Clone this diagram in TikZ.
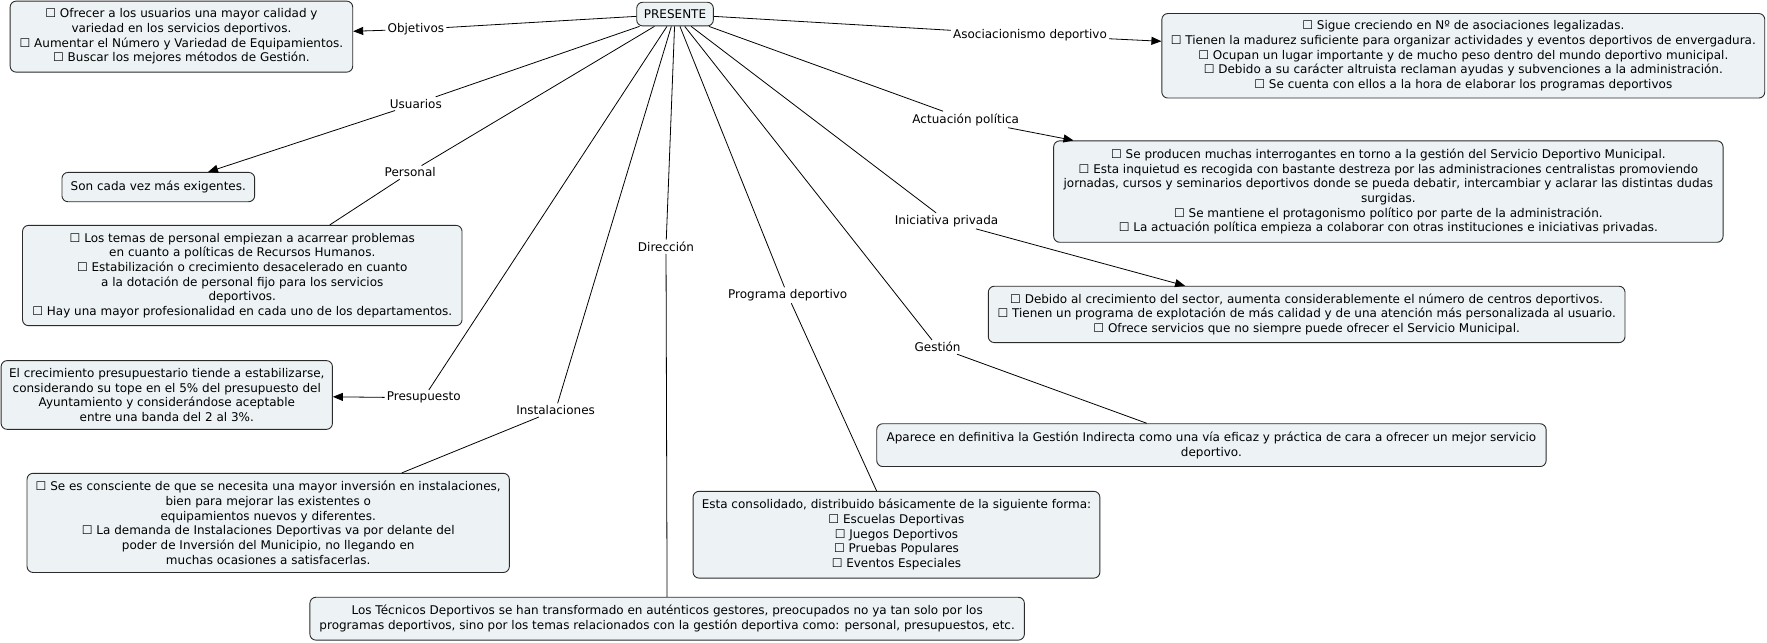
\documentclass[tikz,border=0pt]{standalone}
\usepackage{fontspec}
\setmainfont{DejaVu Sans}
\usetikzlibrary{arrows.meta}
\definecolor{boxfill}{HTML}{EDF3F5}
\definecolor{boxline}{HTML}{2B2B2B}
\begin{document}
\begin{tikzpicture}[x=1.127pt,y=-1.127pt,
  txt/.style={font=\fontsize{12}{14.65}\selectfont},
  cbox/.style={txt,draw=boxline,fill=boxfill,rounded corners=6pt,line width=0.9pt,inner sep=0pt,align=center},
  bx/.style 2 args={minimum width=#1*1.127pt,minimum height=#2*1.127pt},
  lab/.style={txt,inner sep=2pt},
  link/.style={draw=black,line width=0.8pt},
  arr/.style={link,-{Triangle[length=10pt,width=8pt]}}]
\useasboundingbox (0,0) rectangle (1568,570);
% center
\node[cbox,bx={68}{21}] (pres) at (599,12.5) {PRESENTE};
% boxes
\node[cbox,bx={304}{63}] (objB) at (161,32.5) {☐ Ofrecer a los usuarios una mayor calidad y\\variedad en los servicios deportivos.\\☐ Aumentar el Número y Variedad de Equipamientos.\\☐ Buscar los mejores métodos de Gestión.};
\node[cbox,bx={535}{75}] (asocB) at (1298.5,49.5) {☐ Sigue creciendo en Nº de asociaciones legalizadas.\\☐ Tienen la madurez suficiente para organizar actividades y eventos deportivos de envergadura.\\☐ Ocupan un lugar importante y de mucho peso dentro del mundo deportivo municipal.\\☐ Debido a su carácter altruista reclaman ayudas y subvenciones a la administración.\\☐ Se cuenta con ellos a la hora de elaborar los programas deportivos};
\node[cbox,bx={171}{26}] (usuB) at (140.5,166) {Son cada vez más exigentes.};
\node[cbox,bx={390}{89}] (persB) at (215,244.5) {☐ Los temas de personal empiezan a acarrear problemas\\en cuanto a políticas de Recursos Humanos.\\☐ Estabilización o crecimiento desacelerado en cuanto\\a la dotación de personal fijo para los servicios\\deportivos.\\☐ Hay una mayor profesionalidad en cada uno de los departamentos.};
\node[cbox,bx={294}{61}] (presuB) at (148,350.5) {El crecimiento presupuestario tiende a estabilizarse,\\considerando su tope en el 5\% del presupuesto del\\Ayuntamiento y considerándose aceptable\\entre una banda del 2 al 3\%.};
\node[cbox,bx={428}{88}] (instB) at (238,464) {☐ Se es consciente de que se necesita una mayor inversión en instalaciones,\\bien para mejorar las existentes o\\equipamientos nuevos y diferentes.\\☐ La demanda de Instalaciones Deportivas va por delante del\\poder de Inversión del Municipio, no llegando en\\muchas ocasiones a satisfacerlas.};
\node[cbox,bx={634}{38}] (dirB) at (592,549) {Los Técnicos Deportivos se han transformado en auténticos gestores, preocupados no ya tan solo por los\\programas deportivos, sino por los temas relacionados con la gestión deportiva como: personal, presupuestos, etc.};
\node[cbox,bx={361}{77}] (progB) at (795.5,474.5) {Esta consolidado, distribuido básicamente de la siguiente forma:\\☐ Escuelas Deportivas\\☐ Juegos Deportivos\\☐ Pruebas Populares\\☐ Eventos Especiales};
\node[cbox,bx={594}{38}] (gestB) at (1075,395) {Aparece en definitiva la Gestión Indirecta como una vía eficaz y práctica de cara a ofrecer un mejor servicio\\deportivo.};
\node[cbox,bx={565}{50}] (inicB) at (1159.5,279) {☐ Debido al crecimiento del sector, aumenta considerablemente el número de centros deportivos.\\☐ Tienen un programa de explotación de más calidad y de una atención más personalizada al usuario.\\☐ Ofrece servicios que no siempre puede ofrecer el Servicio Municipal.};
\node[cbox,bx={594}{90}] (actB) at (1232,170) {☐ Se producen muchas interrogantes en torno a la gestión del Servicio Deportivo Municipal.\\☐ Esta inquietud es recogida con bastante destreza por las administraciones centralistas promoviendo\\jornadas, cursos y seminarios deportivos donde se pueda debatir, intercambiar y aclarar las distintas dudas\\surgidas.\\☐ Se mantiene el protagonismo político por parte de la administración.\\☐ La actuación política empieza a colaborar con otras instituciones e iniciativas privadas.};
% labels
\node[lab] (objL) at (369,26) {Objetivos};
\node[lab] (asocL) at (914,31) {Asociacionismo deportivo};
\node[lab] (usuL) at (369,92) {Usuarios};
\node[lab] (persL) at (364,153) {Personal};
\node[lab] (presuL) at (376,353) {Presupuesto};
\node[lab] (instL) at (493,364) {Instalaciones};
\node[lab] (dirL) at (591,219) {Dirección};
\node[lab] (progL) at (699,262) {Programa deportivo};
\node[lab] (gestL) at (832,308) {Gestión};
\node[lab] (inicL) at (840,196) {Iniciativa privada};
\node[lab] (actL) at (857,106) {Actuación política};
% connectors
\foreach \n in {objL,asocL,usuL,persL,presuL,instL,dirL,progL,gestL,inicL,actL}
  \draw[link] (pres) -- (\n);
\draw[arr] (objL) -- (objB);
\draw[arr] (asocL) -- (asocB);
\draw[arr] (usuL) -- ([shift={(130,0)}]usuB.north west);
\draw[link] (persL) -- ([shift={(273,0)}]persB.north west);
\draw[arr] (presuL) -- (presuB);
\draw[link] (instL) -- ([shift={(333,0)}]instB.north west);
\draw[link] (dirL) -- (dirB);
\draw[link] (progL) -- (progB);
\draw[link] (gestL) -- ([shift={(240,0)}]gestB.north west);
\draw[arr] (inicL) -- ([shift={(175,0)}]inicB.north west);
\draw[arr] (actL) -- ([shift={(18,0)}]actB.north west);
\end{tikzpicture}
\end{document}
